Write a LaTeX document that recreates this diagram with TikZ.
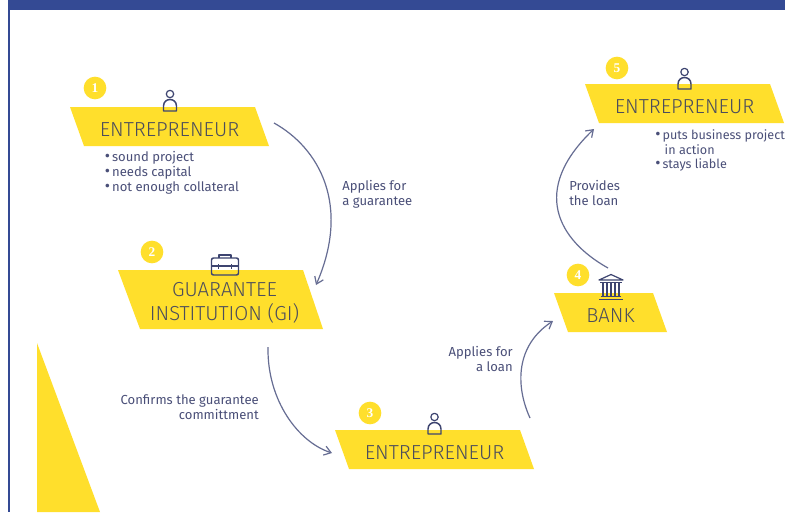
\documentclass[tikz,border=0pt]{standalone}
\usepackage{fontspec}
\setmainfont{Fira Sans Light}
\newfontfamily\bodyfont{Fira Sans}
\newfontfamily\numfont{Liberation Serif}
\usetikzlibrary{arrows.meta}
\definecolor{sunny}{HTML}{FFDF2C}
\definecolor{frameblue}{HTML}{344A94}
\definecolor{navy}{HTML}{3D4470}
\definecolor{headtext}{HTML}{4C4D5C}
\definecolor{bodytext}{HTML}{4A4F78}
\definecolor{curve}{HTML}{666D93}
\newcommand{\blt}{{\fontsize{12}{11}\selectfont\textbullet}\,}
\tikzset{
  banner/.style={fill=sunny,draw=none},
  headlabel/.style={text=headtext,font=\fontsize{15.2}{17.6}\selectfont,align=center,inner sep=0pt},
  bodylabel/.style={text=bodytext,font=\bodyfont\fontsize{9.8}{11}\selectfont,inner sep=0pt},
  edgelist/.style={bodylabel,font=\bodyfont\fontsize{9.45}{11}\selectfont},
  badge/.style={circle,fill=sunny,minimum size=17pt,inner sep=0pt,text=white,font=\numfont\bfseries\fontsize{10}{10}\selectfont},
  flow/.style={curve,line width=0.9pt,-{Straight Barb[length=5pt,width=7pt,line width=0.9pt]}},
  iconline/.style={navy,line width=0.9pt,line join=round}
}
\newcommand{\personicon}[1]{%
  \begin{scope}[shift={(#1)}]
    \draw[iconline] (0,-9) circle[radius=3.7];
    \draw[iconline,line width=1.1pt] (-6.5,8) -- (-6.5,3) .. controls (-6.5,-1.5) and (-3,-3.5) .. (0,-3.5) .. controls (3,-3.5) and (6.5,-1.5) .. (6.5,3) -- (6.5,8) -- cycle;
  \end{scope}}
\begin{document}
\begin{tikzpicture}[x=0.75pt,y=-0.75pt]
\useasboundingbox (0,0) rectangle (785,512);
\fill[white] (0,0) rectangle (785,512);
% frame
\fill[frameblue] (8,0) rectangle (785,10);
\fill[frameblue] (8,0) rectangle (10,512);
% corner triangle
\fill[sunny] (37,343) -- (100,512) -- (37,512) -- cycle;
% banners
\fill[banner] (70,107) -- (255,107) -- (269,146) -- (84,146) -- cycle;
\fill[banner] (118,270) -- (303,270) -- (323,329) -- (140,329) -- cycle;
\fill[banner] (335,430) -- (520,430) -- (534,469) -- (349,469) -- cycle;
\fill[banner] (554,293) -- (653,293) -- (667,332) -- (568,332) -- cycle;
\fill[banner] (585,84) -- (770,84) -- (784,123) -- (599,123) -- cycle;
% headings
\node[headlabel] (ent1) at (169.5,130) {ENTREPRENEUR};
\node[headlabel] (gi) at (224.5,303) {GUARANTEE\\INSTITUTION (GI)};
\node[headlabel] (ent3) at (434.5,453) {ENTREPRENEUR};
\node[headlabel] (bank) at (610.5,316) {BANK};
\node[headlabel] (ent5) at (684.5,107) {ENTREPRENEUR};
% badges
\node[badge] (b1) at (95,88) {1};
\node[badge] (b2) at (152,252) {2};
\node[badge] (b3) at (370,413) {3};
\node[badge] (b4) at (578,275) {4};
\node[badge] (b5) at (617,68) {5};
% icons
\personicon{170,103}
\personicon{434.5,426}
\personicon{684.5,81}
% briefcase
\begin{scope}[shift={(225,265)}]
  \draw[iconline,line width=1.1pt,rounded corners=1.5pt] (-13.5,-7) rectangle (13.5,10);
  \draw[iconline] (-13.5,1) -- (13.5,1);
  \draw[iconline] (-6,-7) -- (-6,-10) -- (6,-10) -- (6,-7);
  \draw[iconline] (-6.5,-1) -- (-6.5,4);
  \draw[iconline] (6.5,-1) -- (6.5,4);
\end{scope}
% bank
\begin{scope}[shift={(611,288)}]
  \draw[iconline] (-12,-8) -- (0,-13.5) -- (12,-8) -- cycle;
  \draw[iconline] (-11,-5.5) -- (11,-5.5);
  \foreach \x in {-8,-4,0,4,8} \draw[iconline] (\x,-5) -- (\x,8);
  \draw[iconline] (-10,8.5) -- (10,8.5);
  \draw[iconline] (-12,11.5) -- (12,11.5);
\end{scope}
% body labels
\node[bodylabel,anchor=north west,align=left] (list1) at (104.5,151.5) {\blt sound project\\\blt needs capital\\\blt not enough collateral};
\node[edgelist,anchor=north west,align=left] (list5) at (655,129.5) {\blt puts business project\\\hspace*{0.75em}in action\\\blt stays liable};
\node[bodylabel,anchor=north west,align=left] (l1) at (342,180.5) {Applies for\\a guarantee};
\node[bodylabel,anchor=north east,align=right] (l2) at (259,394.5) {Confirms the guarantee\\committment};
\node[bodylabel,anchor=north east,align=right] (l3) at (513,346.5) {Applies for\\a loan};
\node[bodylabel,anchor=north west,align=left] (l4) at (569,180.5) {Provides\\the loan};
% connector ends
\coordinate (a1) at (274,123);
\coordinate (a2) at (316,285);
\coordinate (c1) at (268,347);
\coordinate (c2) at (332,453);
\coordinate (d1) at (530,418);
\coordinate (d2) at (553,321);
\coordinate (e1) at (608,268);
\coordinate (e2) at (594,129);
\draw[flow] (a1) .. controls (319,148) and (351,205) .. (a2);
\draw[flow] (c1) .. controls (267,400) and (298,442) .. (c2);
\draw[flow] (d1) .. controls (515,385) and (516,345) .. (d2);
\draw[flow] (e1) .. controls (558,240) and (530,190) .. (e2);
\end{tikzpicture}
\end{document}
